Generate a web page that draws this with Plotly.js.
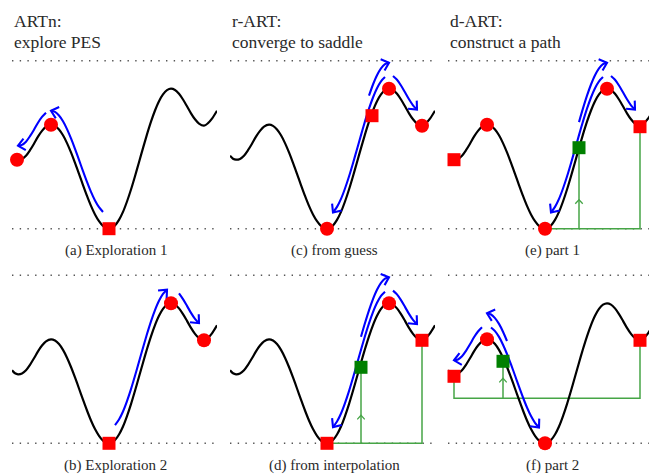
<!DOCTYPE html>
<html><head><meta charset="utf-8">
<script src="https://cdn.plot.ly/plotly-3.0.1.min.js"></script>
<style>html,body{margin:0;padding:0;background:#fff}</style>
</head><body><div id="plot" style="width:649px;height:475px"></div>
<script>
// ---- energy landscape (panel-local: x along reaction coordinate, E above lower dotted level)
const curveX = [0,3,6,10,14,18,22,26,30,34,39,43,47,51,55,59,63,67,71,75,79,83,87,91,94,97,100,103,107,111,115,119,123,127,131,135,139,143,147,151,155,159,163,167,171,175,179,183,187,192,196,200,205];
const curveE = [73,70,69,69.8,73,78.5,85,92,97.8,102,104,102.8,99.2,93.4,85.6,76.3,65.9,54.8,43.6,32.8,22.8,14.2,7.5,2.7,0.7,0,0.8,3.2,8.8,16.8,27.2,39.2,52.5,66.5,80.6,94.3,107,118.2,127.5,134.4,138.6,140,138.7,134.9,129.2,122.4,115.4,109.4,105.1,103,105.5,110,118];
const dottedLevels = [0, 168];

// ---- panels in order a, b, c, d, e, f
const panelLabels = ['(a) Exploration 1','(b) Exploration 2','(c) from guess','(d) from interpolation','(e) part 1','(f) part 2'];
const columnTitles = [['ARTn:','explore PES'],['r-ART:','converge to saddle'],['d-ART:','construct a path']];

// ---- markers per panel
const redCircleX = [[5,39],[159,192],[97,159,192],[159],[39,97,159],[39,97]];
const redCircleE = [[69,104],[140,103],[0,140,103],[140],[104,0,140],[104,0]];
const redSquareX = [[97],[97],[142],[97,192],[6,192],[6,192]];
const redSquareE = [[0],[0],[113],[0,103],[69,102],[67,103]];
const greenSquareX = [[],[],[],[131],[131],[55]];
const greenSquareE = [[],[],[],[76],[81],[82]];
const greenStemBase = [null,null,null,0,0,45];
const greenStemTip = [null,null,null,28,29,65];
const greenPathX = [[],[],[],[97,192,192],[97,192,192],[6,6,192,192]];
const greenPathE = [[],[],[],[0,0,103],[0,0,102],[67,45,45,103]];

// ---- blue arrows: panel, from x, to x, lift above the curve
const arrowPanel = [0,0, 1,1, 2,2,2, 3,3,3, 4,4,4, 5,5,5];
const arrowFrom  = [91,34, 103,167, 139,155,163, 131,155,163, 131,155,163, 59,34,43];
const arrowTo    = [39,6, 155,187, 159,103,187, 159,103,187, 159,103,187, 39,6,91];
const arrowLift  = [14,14, 15,15, 26,13,14, 26,13,14, 26,13,14, 26,14,13];

const W = 649, H = 475;
const colLeft = [12, 230, 448];
const rowZero = [228.7, 443.3];
const yRange = [-22, 178];
const serif = 'Liberation Serif, DejaVu Serif, serif';

const data = [];
const layout = {width: W, height: H, autosize: false, margin: {l:0,r:0,t:0,b:0},
  paper_bgcolor: '#fff', plot_bgcolor: 'rgba(0,0,0,0)', showlegend: false, annotations: []};

function chevron(tx, ty, ux, uy, L, ang) {
  const n = Math.hypot(ux, uy); ux /= n; uy /= n;
  const c = Math.cos(ang), s = Math.sin(ang);
  const w1 = [tx - L*(ux*c - uy*s), ty - L*(ux*s + uy*c)];
  const w2 = [tx - L*(ux*c + uy*s), ty - L*(-ux*s + uy*c)];
  return {x: [w1[0], tx, w2[0]], y: [w1[1], ty, w2[1]]};
}

for (let p = 0; p < 6; p++) {
  const col = Math.floor(p / 2), row = p % 2;
  const sfx = p === 0 ? '' : String(p + 1);
  const xa = 'x' + sfx, ya = 'y' + sfx;
  const left = colLeft[col];
  const right = Math.min(left + 205, W);
  const xmax = right - left;
  layout['xaxis' + sfx] = {domain: [left / W, right / W], range: [0, xmax], visible: false, fixedrange: true, anchor: ya};
  const topPx = rowZero[row] - yRange[1], botPx = rowZero[row] - yRange[0];
  layout['yaxis' + sfx] = {domain: [(H - botPx) / H, (H - topPx) / H], range: yRange, visible: false, fixedrange: true, anchor: xa};

  // dotted levels
  dottedLevels.forEach(L => data.push({type: 'scatter', mode: 'lines', x: [0, xmax], y: [L, L], xaxis: xa, yaxis: ya,
    line: {color: '#555', width: 1.4, dash: '1.4px,6.3px'}, hoverinfo: 'skip'}));

  // green path and stem
  const gc = 'rgb(70,165,70)';
  if (greenPathX[p].length) {
    data.push({type: 'scatter', mode: 'lines', x: greenPathX[p], y: greenPathE[p], xaxis: xa, yaxis: ya,
      line: {color: gc, width: 1.5}, hoverinfo: 'skip'});
    const gx = greenSquareX[p][0];
    data.push({type: 'scatter', mode: 'lines', x: [gx, gx], y: [greenStemBase[p], greenSquareE[p][0]], xaxis: xa, yaxis: ya,
      line: {color: gc, width: 1.5}, hoverinfo: 'skip'});
    const ch = chevron(gx, greenStemTip[p], 0, 1, 5.5, 0.75);
    data.push({type: 'scatter', mode: 'lines', x: ch.x, y: ch.y, xaxis: xa, yaxis: ya,
      line: {color: gc, width: 1.3}, hoverinfo: 'skip'});
  }

  // landscape curve
  data.push({type: 'scatter', mode: 'lines', x: curveX, y: curveE, xaxis: xa, yaxis: ya,
    line: {color: '#000', width: 2.2, shape: 'spline', smoothing: 0.8}, hoverinfo: 'skip'});

  // blue arrows
  for (let k = 0; k < arrowPanel.length; k++) {
    if (arrowPanel[k] !== p) continue;
    const a = arrowFrom[k], b = arrowTo[k], lo = Math.min(a, b), hi = Math.max(a, b);
    let px = [], py = [];
    curveX.forEach((x, i) => { if (x >= lo && x <= hi) { px.push(x); py.push(curveE[i] + arrowLift[k]); } });
    if (a > b) { px.reverse(); py.reverse(); }
    data.push({type: 'scatter', mode: 'lines', x: px, y: py, xaxis: xa, yaxis: ya,
      line: {color: '#0000ff', width: 2.1, shape: 'spline', smoothing: 0.8}, hoverinfo: 'skip'});
    const n = px.length;
    const ch = chevron(px[n-1], py[n-1], px[n-1] - px[n-2], py[n-1] - py[n-2], 9, 0.72);
    data.push({type: 'scatter', mode: 'lines', x: ch.x, y: ch.y, xaxis: xa, yaxis: ya,
      line: {color: '#0000ff', width: 2.1}, hoverinfo: 'skip'});
  }

  // markers
  if (greenSquareX[p].length) data.push({type: 'scatter', mode: 'markers', x: greenSquareX[p], y: greenSquareE[p], xaxis: xa, yaxis: ya,
    cliponaxis: false, marker: {symbol: 'square', size: 13, color: '#008000'}, hoverinfo: 'skip'});
  data.push({type: 'scatter', mode: 'markers', x: redSquareX[p], y: redSquareE[p], xaxis: xa, yaxis: ya,
    cliponaxis: false, marker: {symbol: 'square', size: 13, color: '#ff0000'}, hoverinfo: 'skip'});
  data.push({type: 'scatter', mode: 'markers', x: redCircleX[p], y: redCircleE[p], xaxis: xa, yaxis: ya,
    cliponaxis: false, marker: {symbol: 'circle', size: 14, color: '#ff0000'}, hoverinfo: 'skip'});

  // caption
  layout.annotations.push({xref: 'paper', yref: 'paper', x: (left + 104) / W, y: 1 - (row === 0 ? 250 : 465) / H,
    xanchor: 'center', yanchor: 'middle', showarrow: false, text: panelLabels[p],
    font: {family: serif, size: 15, color: '#2a2a2a'}});
}

// column titles
columnTitles.forEach((lines, c) => {
  lines.forEach((t, j) => layout.annotations.push({xref: 'paper', yref: 'paper', x: colLeft[c] / W, y: 1 - (j === 0 ? 21 : 42) / H,
    xanchor: 'left', yanchor: 'middle', showarrow: false, text: t, font: {family: serif, size: 17.5, color: '#2a2a2a'}}));
});

Plotly.newPlot('plot', data, layout, {displayModeBar: false, staticPlot: true});
</script>
</body></html>
